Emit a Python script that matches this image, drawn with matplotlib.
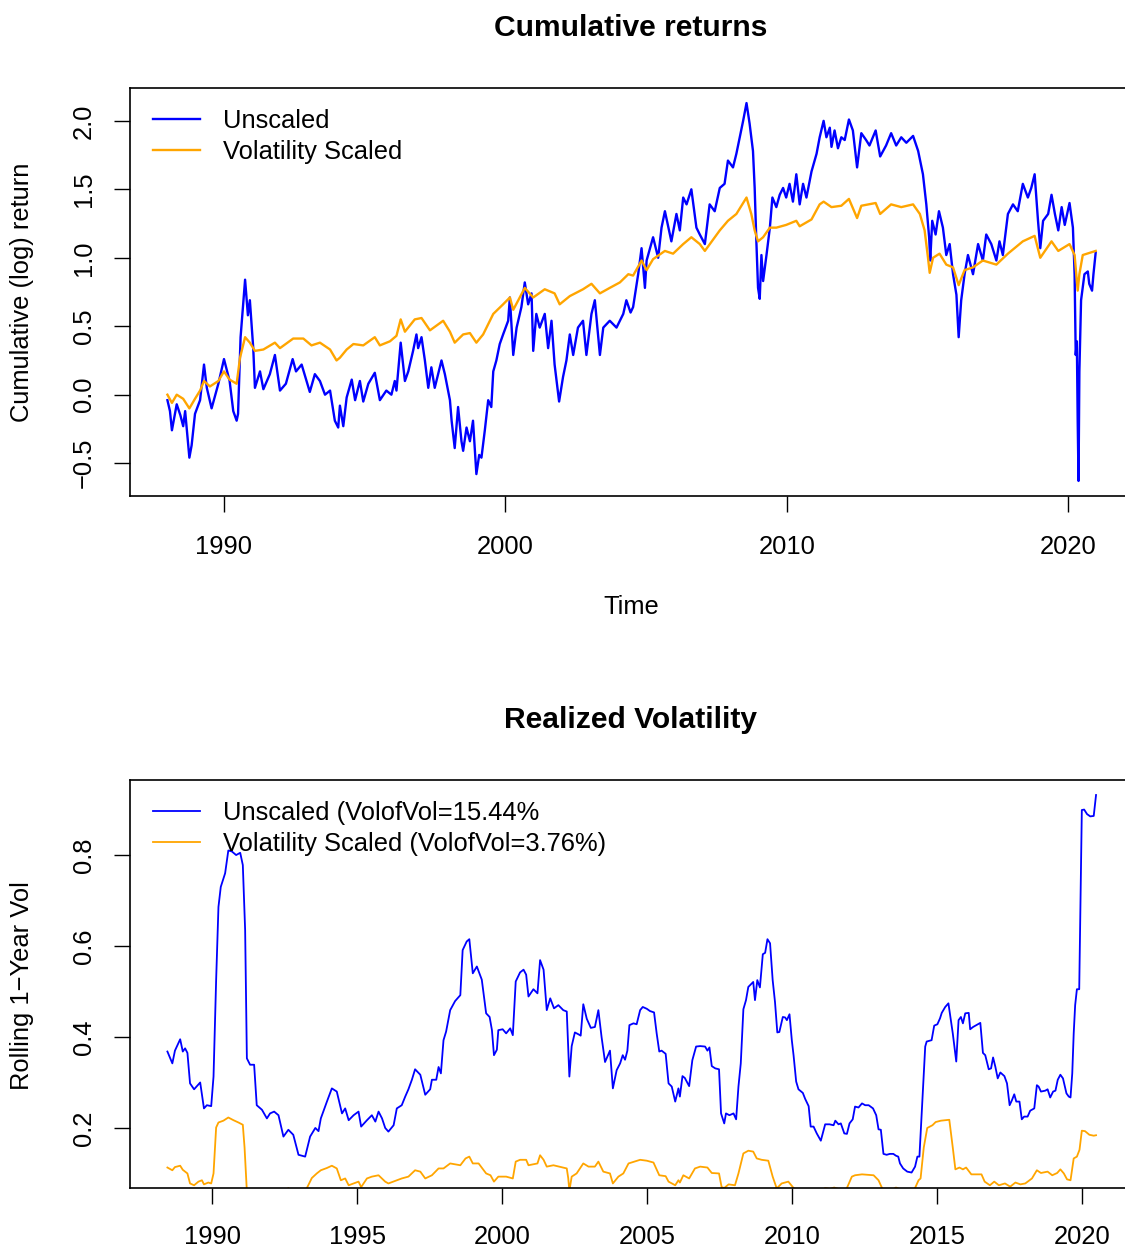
import numpy as np
import matplotlib
matplotlib.use("Agg")
import matplotlib.pyplot as plt

plt.rcParams['font.family'] = ['Liberation Sans', 'DejaVu Sans']

# cumulative (log) return, unscaled strategy
cum_raw_t = [1987.99, 1988.08, 1988.15, 1988.32, 1988.45, 1988.55, 1988.62, 1988.77, 1988.85, 1988.97,
             1989.15, 1989.29, 1989.39, 1989.56, 1989.80, 1990.00, 1990.20, 1990.33, 1990.45, 1990.50,
             1990.59, 1990.75, 1990.85, 1990.92, 1991.04, 1991.10, 1991.28, 1991.40, 1991.63, 1991.81,
             1991.99, 1992.20, 1992.44, 1992.56, 1992.76, 1993.05, 1993.23, 1993.41, 1993.59, 1993.77,
             1993.94, 1994.06, 1994.12, 1994.24, 1994.36, 1994.54, 1994.66, 1994.83, 1994.95, 1995.13,
             1995.36, 1995.54, 1995.77, 1995.95, 1996.07, 1996.13, 1996.28, 1996.43, 1996.55, 1996.72,
             1996.84, 1996.90, 1997.02, 1997.14, 1997.26, 1997.37, 1997.49, 1997.61, 1997.73, 1997.85,
             1998.03, 1998.09, 1998.20, 1998.32, 1998.44, 1998.50, 1998.62, 1998.74, 1998.85, 1998.97,
             1999.07, 1999.15, 1999.27, 1999.39, 1999.50, 1999.57, 1999.68, 1999.80, 1999.92, 2000.10,
             2000.16, 2000.28, 2000.40, 2000.57, 2000.69, 2000.81, 2000.93, 2000.99, 2001.10, 2001.22,
             2001.40, 2001.52, 2001.64, 2001.75, 2001.91, 2002.05, 2002.17, 2002.29, 2002.41, 2002.58,
             2002.76, 2002.88, 2003.06, 2003.18, 2003.36, 2003.48, 2003.71, 2003.95, 2004.19, 2004.30,
             2004.45, 2004.54, 2004.72, 2004.84, 2004.96, 2005.02, 2005.25, 2005.43, 2005.55, 2005.67,
             2005.90, 2006.08, 2006.20, 2006.32, 2006.44, 2006.61, 2006.79, 2006.91, 2007.09, 2007.26,
             2007.44, 2007.62, 2007.79, 2007.91, 2008.09, 2008.21, 2008.33, 2008.45, 2008.57, 2008.68,
             2008.80, 2008.86, 2008.92, 2008.98, 2009.04, 2009.10, 2009.16, 2009.28, 2009.40, 2009.49,
             2009.63, 2009.75, 2009.87, 2009.98, 2010.10, 2010.22, 2010.34, 2010.46, 2010.58, 2010.70,
             2010.88, 2011.06, 2011.17, 2011.31, 2011.41, 2011.53, 2011.59, 2011.70, 2011.82, 2011.94,
             2012.06, 2012.21, 2012.35, 2012.50, 2012.65, 2012.82, 2012.94, 2013.16, 2013.32, 2013.53,
             2013.71, 2013.89, 2014.07, 2014.25, 2014.49, 2014.67, 2014.84, 2014.96, 2015.06, 2015.10,
             2015.17, 2015.29, 2015.41, 2015.55, 2015.67, 2015.79, 2015.91, 2016.03, 2016.11, 2016.20,
             2016.32, 2016.44, 2016.62, 2016.80, 2016.97, 2017.09, 2017.27, 2017.45, 2017.56, 2017.68,
             2017.86, 2018.04, 2018.21, 2018.39, 2018.57, 2018.69, 2018.81, 2018.93, 2019.01, 2019.11,
             2019.29, 2019.41, 2019.53, 2019.65, 2019.77, 2019.88, 2020.05, 2020.17, 2020.23, 2020.27,
             2020.31, 2020.34, 2020.37, 2020.40, 2020.46, 2020.58, 2020.70, 2020.75, 2020.85, 2020.90,
             2020.98]
cum_raw = [-0.04, -0.12, -0.26, -0.07, -0.15, -0.23, -0.12, -0.46, -0.37, -0.14,
           -0.04, 0.22, 0.05, -0.10, 0.08, 0.26, 0.10, -0.12, -0.19, -0.14,
           0.42, 0.84, 0.58, 0.69, 0.34, 0.05, 0.17, 0.04, 0.15, 0.29,
           0.03, 0.08, 0.26, 0.17, 0.22, 0.02, 0.15, 0.10, 0.00, 0.03,
           -0.19, -0.24, -0.08, -0.23, -0.02, 0.11, -0.04, 0.10, -0.05, 0.08,
           0.16, -0.04, 0.03, 0.00, 0.10, 0.03, 0.38, 0.10, 0.17, 0.32,
           0.44, 0.34, 0.42, 0.25, 0.05, 0.20, 0.05, 0.15, 0.25, 0.15,
           -0.04, -0.19, -0.39, -0.09, -0.34, -0.41, -0.24, -0.34, -0.19, -0.58,
           -0.44, -0.46, -0.26, -0.04, -0.09, 0.17, 0.25, 0.37, 0.44, 0.54,
           0.71, 0.29, 0.49, 0.64, 0.82, 0.66, 0.74, 0.32, 0.59, 0.49,
           0.59, 0.34, 0.54, 0.22, -0.05, 0.13, 0.25, 0.44, 0.29, 0.49,
           0.54, 0.29, 0.59, 0.69, 0.29, 0.49, 0.54, 0.49, 0.59, 0.69,
           0.60, 0.64, 0.88, 1.07, 0.78, 0.98, 1.15, 1.00, 1.22, 1.34,
           1.12, 1.32, 1.20, 1.44, 1.39, 1.50, 1.22, 1.17, 1.10, 1.39,
           1.34, 1.51, 1.54, 1.71, 1.66, 1.76, 1.88, 2.00, 2.13, 1.98,
           1.78, 1.51, 1.12, 0.78, 0.70, 1.02, 0.83, 1.02, 1.22, 1.44,
           1.37, 1.46, 1.51, 1.44, 1.54, 1.41, 1.61, 1.39, 1.54, 1.44,
           1.63, 1.76, 1.88, 2.00, 1.88, 1.95, 1.81, 1.93, 1.80, 1.88,
           1.86, 2.01, 1.93, 1.66, 1.91, 1.86, 1.82, 1.93, 1.74, 1.82,
           1.91, 1.82, 1.88, 1.84, 1.89, 1.78, 1.61, 1.39, 1.15, 0.98,
           1.27, 1.17, 1.34, 1.22, 1.02, 1.10, 0.88, 0.73, 0.42, 0.69,
           0.88, 1.02, 0.88, 1.10, 0.98, 1.17, 1.10, 0.98, 1.12, 1.02,
           1.32, 1.39, 1.34, 1.54, 1.44, 1.51, 1.61, 1.27, 1.07, 1.27,
           1.32, 1.46, 1.32, 1.20, 1.37, 1.24, 1.40, 1.22, 0.88, 0.29,
           0.39, -0.19, -0.63, 0.17, 0.69, 0.88, 0.90, 0.81, 0.76, 0.88,
           1.04]

# cumulative (log) return, volatility scaled strategy
cum_vs_t = [1987.99, 1988.15, 1988.32, 1988.55, 1988.77, 1988.97, 1989.15, 1989.29, 1989.50, 1989.80,
            1990.00, 1990.20, 1990.45, 1990.57, 1990.75, 1990.92, 1991.10, 1991.40, 1991.81, 1991.99,
            1992.46, 1992.82, 1993.11, 1993.41, 1993.77, 1994.00, 1994.12, 1994.36, 1994.60, 1994.95,
            1995.36, 1995.54, 1995.90, 1996.13, 1996.28, 1996.43, 1996.78, 1997.02, 1997.32, 1997.79,
            1998.03, 1998.20, 1998.50, 1998.74, 1998.97, 1999.21, 1999.57, 1999.92, 2000.16, 2000.28,
            2000.69, 2000.99, 2001.40, 2001.75, 2001.93, 2002.29, 2002.76, 2003.06, 2003.36, 2003.71,
            2004.07, 2004.37, 2004.54, 2004.84, 2005.02, 2005.25, 2005.67, 2005.96, 2006.32, 2006.61,
            2006.91, 2007.09, 2007.62, 2007.91, 2008.21, 2008.57, 2008.74, 2008.86, 2008.98, 2009.16,
            2009.40, 2009.63, 2009.98, 2010.34, 2010.46, 2010.88, 2011.17, 2011.31, 2011.59, 2011.94,
            2012.21, 2012.50, 2012.65, 2013.16, 2013.32, 2013.71, 2014.07, 2014.49, 2014.73, 2014.90,
            2015.02, 2015.08, 2015.20, 2015.43, 2015.67, 2015.91, 2016.11, 2016.32, 2016.62, 2016.97,
            2017.45, 2017.86, 2018.39, 2018.81, 2019.01, 2019.41, 2019.65, 2020.05, 2020.23, 2020.34,
            2020.40, 2020.52, 2020.98]
cum_vs = [0.00, -0.06, 0.00, -0.03, -0.10, -0.03, 0.03, 0.10, 0.06, 0.10,
          0.17, 0.11, 0.08, 0.27, 0.42, 0.38, 0.32, 0.33, 0.38, 0.34,
          0.41, 0.41, 0.36, 0.38, 0.33, 0.25, 0.27, 0.33, 0.37, 0.36,
          0.42, 0.36, 0.39, 0.43, 0.55, 0.46, 0.55, 0.56, 0.47, 0.54,
          0.46, 0.38, 0.44, 0.45, 0.38, 0.44, 0.59, 0.66, 0.71, 0.62,
          0.78, 0.71, 0.77, 0.74, 0.66, 0.72, 0.77, 0.81, 0.74, 0.78,
          0.82, 0.88, 0.87, 0.98, 0.91, 0.99, 1.05, 1.03, 1.10, 1.15,
          1.10, 1.05, 1.20, 1.27, 1.32, 1.44, 1.32, 1.20, 1.12, 1.15,
          1.22, 1.22, 1.24, 1.27, 1.23, 1.28, 1.39, 1.41, 1.37, 1.38,
          1.43, 1.29, 1.38, 1.40, 1.32, 1.39, 1.37, 1.39, 1.32, 1.20,
          1.00, 0.89, 1.00, 1.03, 0.95, 0.93, 0.80, 0.91, 0.93, 0.98,
          0.95, 1.03, 1.12, 1.16, 1.00, 1.12, 1.05, 1.10, 1.02, 0.76,
          0.88, 1.02, 1.05]

# rolling 1-year realized volatility, unscaled
vol_raw_t = [1988.46, 1988.63, 1988.72, 1988.90, 1988.99, 1989.07, 1989.15, 1989.24, 1989.38, 1989.59,
             1989.72, 1989.82, 1989.97, 1990.05, 1990.14, 1990.22, 1990.30, 1990.45, 1990.56, 1990.68,
             1990.83, 1990.97, 1991.06, 1991.14, 1991.20, 1991.31, 1991.45, 1991.54, 1991.72, 1991.89,
             1992.00, 1992.14, 1992.29, 1992.46, 1992.63, 1992.80, 1992.98, 1993.21, 1993.38, 1993.56,
             1993.67, 1993.75, 1993.96, 1994.13, 1994.30, 1994.48, 1994.59, 1994.71, 1994.88, 1995.05,
             1995.14, 1995.34, 1995.51, 1995.63, 1995.74, 1995.86, 1995.97, 1996.08, 1996.26, 1996.37,
             1996.54, 1996.66, 1996.77, 1996.89, 1997.00, 1997.18, 1997.35, 1997.52, 1997.58, 1997.73,
             1997.81, 1997.89, 1997.98, 1998.07, 1998.21, 1998.38, 1998.56, 1998.64, 1998.78, 1998.87,
             1998.99, 1999.13, 1999.30, 1999.45, 1999.57, 1999.65, 1999.72, 1999.82, 1999.87, 2000.02,
             2000.14, 2000.28, 2000.37, 2000.47, 2000.62, 2000.74, 2000.83, 2000.91, 2001.08, 2001.22,
             2001.31, 2001.43, 2001.54, 2001.66, 2001.79, 2001.94, 2002.11, 2002.23, 2002.32, 2002.40,
             2002.51, 2002.63, 2002.71, 2002.80, 2002.92, 2003.06, 2003.20, 2003.32, 2003.43, 2003.55,
             2003.72, 2003.82, 2003.95, 2004.07, 2004.16, 2004.24, 2004.32, 2004.39, 2004.53, 2004.64,
             2004.76, 2004.85, 2004.99, 2005.10, 2005.24, 2005.33, 2005.42, 2005.50, 2005.64, 2005.74,
             2005.85, 2005.97, 2006.08, 2006.13, 2006.22, 2006.30, 2006.45, 2006.56, 2006.69, 2006.83,
             2007.00, 2007.08, 2007.15, 2007.23, 2007.35, 2007.48, 2007.55, 2007.66, 2007.72, 2007.84,
             2007.98, 2008.07, 2008.15, 2008.23, 2008.32, 2008.41, 2008.49, 2008.61, 2008.66, 2008.72,
             2008.80, 2008.89, 2008.99, 2009.07, 2009.15, 2009.24, 2009.33, 2009.41, 2009.49, 2009.56,
             2009.68, 2009.76, 2009.82, 2009.91, 2009.99, 2010.05, 2010.14, 2010.22, 2010.37, 2010.45,
             2010.57, 2010.64, 2010.74, 2010.85, 2010.99, 2011.14, 2011.29, 2011.43, 2011.49, 2011.60,
             2011.68, 2011.80, 2011.89, 2011.98, 2012.09, 2012.17, 2012.29, 2012.41, 2012.52, 2012.64,
             2012.79, 2012.90, 2012.98, 2013.06, 2013.15, 2013.26, 2013.37, 2013.49, 2013.58, 2013.66,
             2013.72, 2013.83, 2013.97, 2014.12, 2014.24, 2014.32, 2014.39, 2014.47, 2014.59, 2014.64,
             2014.81, 2014.90, 2015.01, 2015.10, 2015.16, 2015.28, 2015.39, 2015.54, 2015.66, 2015.74,
             2015.82, 2015.89, 2015.97, 2016.09, 2016.14, 2016.24, 2016.35, 2016.49, 2016.58, 2016.66,
             2016.78, 2016.86, 2016.93, 2017.01, 2017.09, 2017.18, 2017.32, 2017.41, 2017.50, 2017.58,
             2017.66, 2017.73, 2017.84, 2017.92, 2018.00, 2018.12, 2018.21, 2018.35, 2018.44, 2018.50,
             2018.58, 2018.73, 2018.81, 2018.90, 2019.00, 2019.08, 2019.16, 2019.25, 2019.34, 2019.46,
             2019.54, 2019.60, 2019.66, 2019.71, 2019.76, 2019.82, 2019.90, 2019.99, 2020.07, 2020.17,
             2020.28, 2020.40, 2020.48]
vol_raw = [0.368, 0.342, 0.370, 0.395, 0.368, 0.375, 0.365, 0.298, 0.285, 0.300,
           0.243, 0.250, 0.248, 0.313, 0.525, 0.686, 0.730, 0.760, 0.810, 0.808,
           0.800, 0.805, 0.778, 0.635, 0.353, 0.339, 0.339, 0.250, 0.240, 0.221,
           0.232, 0.236, 0.228, 0.181, 0.196, 0.185, 0.141, 0.137, 0.181, 0.200,
           0.193, 0.221, 0.258, 0.287, 0.280, 0.232, 0.243, 0.217, 0.228, 0.236,
           0.203, 0.217, 0.228, 0.214, 0.236, 0.221, 0.200, 0.192, 0.206, 0.243,
           0.250, 0.269, 0.285, 0.306, 0.329, 0.317, 0.273, 0.285, 0.306, 0.306,
           0.334, 0.320, 0.393, 0.412, 0.459, 0.479, 0.492, 0.591, 0.610, 0.615,
           0.540, 0.555, 0.526, 0.452, 0.444, 0.415, 0.360, 0.372, 0.415, 0.417,
           0.408, 0.419, 0.404, 0.522, 0.542, 0.548, 0.537, 0.489, 0.505, 0.496,
           0.569, 0.548, 0.459, 0.485, 0.463, 0.470, 0.459, 0.456, 0.313, 0.380,
           0.410, 0.406, 0.403, 0.472, 0.440, 0.420, 0.422, 0.459, 0.400, 0.345,
           0.370, 0.287, 0.327, 0.342, 0.360, 0.350, 0.370, 0.426, 0.430, 0.428,
           0.459, 0.466, 0.462, 0.457, 0.454, 0.408, 0.368, 0.370, 0.363, 0.298,
           0.291, 0.258, 0.287, 0.269, 0.314, 0.310, 0.292, 0.349, 0.379, 0.380,
           0.379, 0.370, 0.377, 0.336, 0.331, 0.329, 0.232, 0.210, 0.232, 0.228,
           0.232, 0.219, 0.291, 0.342, 0.461, 0.481, 0.510, 0.518, 0.521, 0.481,
           0.525, 0.509, 0.582, 0.585, 0.615, 0.606, 0.525, 0.477, 0.410, 0.411,
           0.444, 0.443, 0.437, 0.450, 0.393, 0.360, 0.302, 0.285, 0.277, 0.264,
           0.248, 0.203, 0.203, 0.188, 0.172, 0.208, 0.208, 0.206, 0.216, 0.208,
           0.210, 0.188, 0.187, 0.210, 0.219, 0.247, 0.245, 0.254, 0.250, 0.250,
           0.243, 0.228, 0.197, 0.196, 0.143, 0.141, 0.143, 0.143, 0.139, 0.137,
           0.122, 0.111, 0.104, 0.102, 0.115, 0.137, 0.137, 0.232, 0.379, 0.390,
           0.393, 0.425, 0.428, 0.441, 0.453, 0.466, 0.474, 0.408, 0.346, 0.437,
           0.444, 0.430, 0.452, 0.453, 0.417, 0.422, 0.426, 0.431, 0.365, 0.360,
           0.329, 0.331, 0.355, 0.334, 0.309, 0.322, 0.314, 0.298, 0.250, 0.261,
           0.274, 0.258, 0.258, 0.219, 0.225, 0.225, 0.238, 0.243, 0.294, 0.291,
           0.280, 0.282, 0.285, 0.267, 0.280, 0.282, 0.306, 0.317, 0.309, 0.276,
           0.269, 0.267, 0.320, 0.408, 0.470, 0.505, 0.505, 0.899, 0.900, 0.890,
           0.885, 0.886, 0.932]

# rolling 1-year realized volatility, volatility scaled
vol_vs_t = [1988.46, 1988.63, 1988.72, 1988.90, 1988.99, 1989.15, 1989.24, 1989.38, 1989.53, 1989.65,
            1989.72, 1989.87, 1989.97, 1990.05, 1990.14, 1990.22, 1990.39, 1990.56, 1990.74, 1990.91,
            1991.06, 1991.12, 1991.20, 1991.30, 1991.70, 1992.20, 1992.55, 1992.63, 1992.72, 1993.05,
            1993.27, 1993.44, 1993.61, 1993.75, 1993.96, 1994.13, 1994.30, 1994.44, 1994.59, 1994.71,
            1994.88, 1995.05, 1995.14, 1995.34, 1995.51, 1995.74, 1995.97, 1996.08, 1996.37, 1996.54,
            1996.77, 1997.00, 1997.18, 1997.35, 1997.58, 1997.81, 1997.98, 1998.21, 1998.56, 1998.74,
            1998.87, 1998.99, 1999.19, 1999.45, 1999.60, 1999.72, 1999.87, 2000.14, 2000.37, 2000.47,
            2000.62, 2000.83, 2000.91, 2001.22, 2001.31, 2001.43, 2001.54, 2001.77, 2002.11, 2002.23,
            2002.28, 2002.32, 2002.40, 2002.57, 2002.80, 2002.98, 2003.20, 2003.32, 2003.49, 2003.72,
            2003.82, 2004.01, 2004.18, 2004.36, 2004.76, 2004.99, 2005.22, 2005.42, 2005.64, 2005.74,
            2005.97, 2006.08, 2006.13, 2006.25, 2006.45, 2006.65, 2006.83, 2007.08, 2007.23, 2007.48,
            2007.57, 2007.66, 2007.81, 2008.03, 2008.15, 2008.32, 2008.49, 2008.66, 2008.78, 2008.95,
            2009.18, 2009.33, 2009.47, 2009.64, 2009.87, 2010.05, 2010.16, 2010.50, 2010.90, 2011.14,
            2011.30, 2011.45, 2011.60, 2011.75, 2011.89, 2012.06, 2012.17, 2012.41, 2012.81, 2012.98,
            2013.10, 2013.30, 2013.50, 2013.58, 2013.66, 2013.80, 2014.05, 2014.24, 2014.36, 2014.43,
            2014.54, 2014.66, 2014.84, 2014.95, 2015.13, 2015.42, 2015.54, 2015.63, 2015.77, 2015.89,
            2016.00, 2016.18, 2016.53, 2016.64, 2016.82, 2016.97, 2017.13, 2017.34, 2017.52, 2017.70,
            2017.87, 2018.04, 2018.27, 2018.44, 2018.58, 2018.81, 2018.97, 2019.14, 2019.25, 2019.37,
            2019.48, 2019.60, 2019.71, 2019.82, 2019.91, 2019.99, 2020.10, 2020.25, 2020.40, 2020.48]
vol_vs = [0.113, 0.107, 0.114, 0.117, 0.108, 0.100, 0.078, 0.074, 0.082, 0.085,
          0.076, 0.080, 0.078, 0.100, 0.201, 0.212, 0.216, 0.223, 0.217, 0.212,
          0.207, 0.157, 0.060, 0.050, 0.045, 0.050, 0.060, 0.068, 0.060, 0.055,
          0.068, 0.090, 0.100, 0.107, 0.112, 0.117, 0.111, 0.085, 0.089, 0.074,
          0.078, 0.082, 0.070, 0.089, 0.093, 0.096, 0.082, 0.078, 0.085, 0.089,
          0.093, 0.107, 0.104, 0.089, 0.096, 0.111, 0.111, 0.122, 0.118, 0.133,
          0.137, 0.122, 0.122, 0.100, 0.096, 0.082, 0.093, 0.093, 0.089, 0.126,
          0.130, 0.130, 0.118, 0.122, 0.140, 0.130, 0.115, 0.118, 0.113, 0.111,
          0.090, 0.062, 0.093, 0.100, 0.122, 0.115, 0.115, 0.126, 0.104, 0.100,
          0.078, 0.093, 0.100, 0.122, 0.130, 0.128, 0.124, 0.096, 0.094, 0.082,
          0.074, 0.085, 0.080, 0.096, 0.089, 0.111, 0.115, 0.113, 0.101, 0.100,
          0.070, 0.068, 0.076, 0.074, 0.100, 0.144, 0.150, 0.148, 0.133, 0.130,
          0.128, 0.093, 0.067, 0.078, 0.082, 0.068, 0.060, 0.050, 0.055, 0.068,
          0.066, 0.069, 0.066, 0.060, 0.068, 0.093, 0.096, 0.098, 0.096, 0.085,
          0.068, 0.055, 0.066, 0.069, 0.067, 0.055, 0.055, 0.068, 0.085, 0.089,
          0.157, 0.200, 0.206, 0.213, 0.216, 0.218, 0.157, 0.109, 0.113, 0.109,
          0.113, 0.098, 0.098, 0.082, 0.074, 0.082, 0.074, 0.078, 0.071, 0.080,
          0.076, 0.078, 0.089, 0.107, 0.101, 0.104, 0.096, 0.101, 0.109, 0.100,
          0.087, 0.085, 0.133, 0.137, 0.152, 0.194, 0.193, 0.185, 0.183, 0.184]

top_yticks = [-0.5, 0.0, 0.5, 1.0, 1.5, 2.0]
top_xticks = [1990, 2000, 2010, 2020]
bot_yticks = [0.2, 0.4, 0.6, 0.8]
bot_xticks = [1990, 1995, 2000, 2005, 2010, 2015, 2020]

BLUE = '#0000FF'
ORANGE = '#FFA500'
W, H = 1125, 1249
FS = 18.4

fig = plt.figure(figsize=(W / 100, H / 100), dpi=100)


def px_axes(left, top, right, bottom):
    return fig.add_axes([left / W, 1 - bottom / H, (right - left) / W, (bottom - top) / H])


def style(ax, xticks, yticks, ylabels):
    ax.set_xticks(xticks)
    ax.set_xticklabels([str(t) for t in xticks], fontsize=FS)
    ax.set_yticks(yticks)
    ax.set_yticklabels(ylabels, fontsize=FS, rotation=90, va='center')
    ax.tick_params(axis='both', direction='out', length=11.5, width=1, color='black')
    ax.tick_params(axis='x', pad=16.5)
    ax.tick_params(axis='y', pad=13)
    for s in ax.spines.values():
        s.set_linewidth(1.2)
        s.set_color('black')


def add_legend(ax, handles, labels):
    ax.legend(handles, labels, loc='upper left',
              bbox_to_anchor=(23 / 1002, 1 - 21 / 408), frameon=False, fontsize=FS,
              handlelength=1.84, handletextpad=0.9, borderpad=0, borderaxespad=0,
              labelspacing=0.26)


# top panel: cumulative returns
ax1 = px_axes(130, 88, 1132, 496)
l1, = ax1.plot(cum_raw_t, cum_raw, color=BLUE, lw=1.7)
l2, = ax1.plot(cum_vs_t, cum_vs, color=ORANGE, lw=1.7)
ax1.set_xlim(1986.66, 2022.27)
ax1.set_ylim(-0.74, 2.24)
style(ax1, top_xticks, top_yticks, [f'{v:.1f}'.replace('-', '\u2212') for v in top_yticks])
add_legend(ax1, [l1, l2], ['Unscaled', 'Volatility Scaled'])

# bottom panel: rolling realized volatility
ax2 = px_axes(130, 780, 1132, 1188)
l3, = ax2.plot(vol_raw_t, vol_raw, color=BLUE, lw=1.3)
l4, = ax2.plot(vol_vs_t, vol_vs, color=ORANGE, lw=1.3)
ax2.set_xlim(1987.17, 2021.72)
ax2.set_ylim(0.068, 0.965)
style(ax2, bot_xticks, bot_yticks, [f'{v:.1f}' for v in bot_yticks])
ax2.tick_params(axis='x', pad=15)
add_legend(ax2, [l3, l4], ['Unscaled (VolofVol=15.44%', 'Volatility Scaled (VolofVol=3.76%)'])

# titles and axis labels
fig.text(631 / W, 1 - 28 / H, 'Cumulative returns', ha='center', va='center',
         fontsize=21.6, fontweight='bold')
fig.text(631 / W, 1 - 720 / H, 'Realized Volatility', ha='center', va='center',
         fontsize=21.6, fontweight='bold')
fig.text(631 / W, 1 - 607 / H, 'Time', ha='center', va='center', fontsize=FS)
fig.text(22 / W, 1 - 292 / H, 'Cumulative (log) return', ha='center', va='center',
         rotation=90, fontsize=FS)
fig.text(22 / W, 1 - 986 / H, 'Rolling 1\u2212Year Vol', ha='center', va='center',
         rotation=90, fontsize=FS)

fig.savefig('out.png', dpi=100)
